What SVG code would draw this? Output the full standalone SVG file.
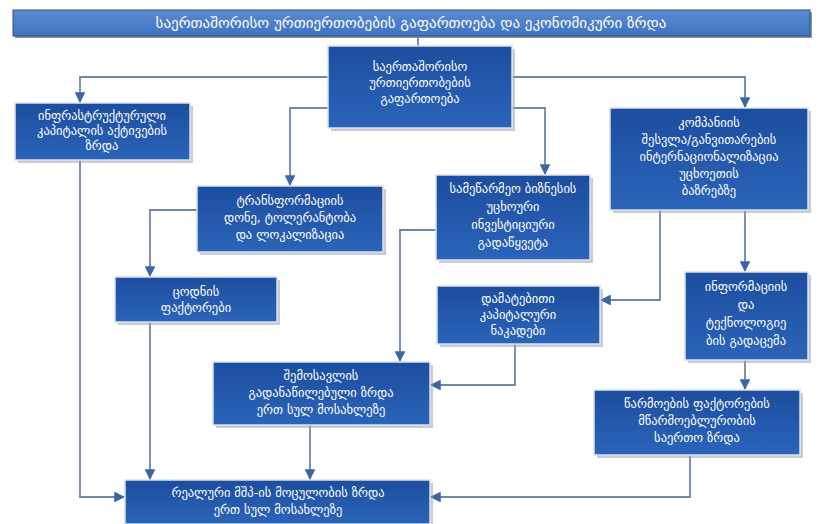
<svg xmlns="http://www.w3.org/2000/svg" width="820" height="524" viewBox="0 0 820 524">
<defs>
<linearGradient id="gb" x1="0" y1="0" x2="0" y2="1">
<stop offset="0" stop-color="#1d4d9e"/>
<stop offset="0.5" stop-color="#2459ad"/>
<stop offset="1" stop-color="#2a64b8"/>
</linearGradient>
<linearGradient id="gt" x1="0" y1="0" x2="0" y2="1">
<stop offset="0" stop-color="#5a8ad0"/>
<stop offset="1" stop-color="#3f74c0"/>
</linearGradient>
<marker id="ar" viewBox="0 0 10 10" refX="9" refY="5" markerWidth="6" markerHeight="6" orient="auto">
<path d="M0,0 L10,5 L0,10 z" fill="#3a66a8"/>
</marker>
</defs>
<style>
.box{fill:url(#gb);stroke:#d9e2f0;stroke-width:1.5}
.sh{fill:#9aa3ad;opacity:0.55}
.t{font-family:"DejaVu Sans",sans-serif;font-size:12.5px;fill:#ffffff;text-anchor:middle}
.c{fill:none;stroke:#6f87a8;stroke-width:1.8;marker-end:url(#ar)}
.cn{fill:none;stroke:#6f87a8;stroke-width:1.8}
</style>
<rect width="820" height="524" fill="#ffffff"/>

<g id="connectors">
<path class="cn" d="M418,36 L418,46"/>
<path class="c" d="M328,77 L80,77 L80,102"/>
<path class="c" d="M328,108 L290,108 L290,185"/>
<path class="c" d="M512,77 L745,77 L745,107"/>
<path class="c" d="M512,108 L545,108 L545,174"/>
<path class="c" d="M80,160 L80,497 L124,497"/>
<path class="c" d="M197,210 L150,210 L150,276"/>
<path class="c" d="M150,322 L150,479"/>
<path class="c" d="M436,230 L400,230 L400,361"/>
<path class="c" d="M745,210 L745,271"/>
<path class="c" d="M660,210 L660,300 L601,300"/>
<path class="c" d="M745,360 L745,389"/>
<path class="c" d="M515,344 L515,385 L431,385"/>
<path class="c" d="M310,425 L310,479"/>
<path class="c" d="M690,455 L690,497 L431,497"/>
</g>

<g id="title">
<rect x="15" y="12" width="797" height="26" fill="#8c9099"/>
<rect x="13" y="10" width="797" height="26" fill="url(#gt)" stroke="#2a4f86" stroke-width="1"/>
<text class="t" x="411" y="28" style="font-size:15px">საერთაშორისო ურთიერთობების გაფართოება და ეკონომიკური ზრდა</text>
</g>

<g id="n-top">
<rect class="sh" x="331" y="49" width="184" height="82"/>
<rect class="box" x="328" y="46" width="184" height="82"/>
<text class="t" x="420" y="71">საერთაშორისო</text>
<text class="t" x="420" y="87">ურთიერთობების</text>
<text class="t" x="420" y="103">გაფართოება</text>
</g>

<g id="n-left">
<rect class="sh" x="18" y="106" width="175" height="57"/>
<rect class="box" x="15" y="103" width="175" height="57"/>
<text class="t" x="102" y="120">ინფრასტრუქტურული</text>
<text class="t" x="102" y="135">კაპიტალის აქტივების</text>
<text class="t" x="102" y="150">ზრდა</text>
</g>

<g id="n-right">
<rect class="sh" x="613" y="111" width="198" height="102"/>
<rect class="box" x="610" y="108" width="198" height="102"/>
<text class="t" x="709" y="127">კომპანიის</text>
<text class="t" x="709" y="144">შესვლა/განვითარების</text>
<text class="t" x="709" y="161">ინტერნაციონალიზაცია</text>
<text class="t" x="709" y="178">უცხოეთის</text>
<text class="t" x="709" y="195">ბაზრებზე</text>
</g>

<g id="n-b">
<rect class="sh" x="200" y="189" width="186" height="66"/>
<rect class="box" x="197" y="186" width="186" height="66"/>
<text class="t" x="290" y="205">ტრანსფორმაციის</text>
<text class="t" x="290" y="222">დონე, ტოლერანტობა</text>
<text class="t" x="290" y="239">და ლოკალიზაცია</text>
</g>

<g id="n-c">
<rect class="sh" x="439" y="178" width="154" height="85"/>
<rect class="box" x="436" y="175" width="154" height="85"/>
<text class="t" x="513" y="193">სამეწარმეო ბიზნესის</text>
<text class="t" x="513" y="211">უცხოური</text>
<text class="t" x="513" y="229">ინვესტიციური</text>
<text class="t" x="513" y="247">გადაწყვეტა</text>
</g>

<g id="n-d">
<rect class="sh" x="118" y="280" width="162" height="45"/>
<rect class="box" x="115" y="277" width="162" height="45"/>
<text class="t" x="196" y="296">ცოდნის</text>
<text class="t" x="196" y="312">ფაქტორები</text>
</g>

<g id="n-e">
<rect class="sh" x="440" y="289" width="163" height="58"/>
<rect class="box" x="437" y="286" width="163" height="58"/>
<text class="t" x="518" y="303">დამატებითი</text>
<text class="t" x="518" y="319">კაპიტალური</text>
<text class="t" x="518" y="335">ნაკადები</text>
</g>

<g id="n-f">
<rect class="sh" x="688" y="275" width="123" height="88"/>
<rect class="box" x="685" y="272" width="123" height="88"/>
<text class="t" x="746" y="291">ინფორმაციის</text>
<text class="t" x="746" y="309">და</text>
<text class="t" x="746" y="327">ტექნოლოგიე</text>
<text class="t" x="746" y="345">ბის გადაცემა</text>
</g>

<g id="n-g">
<rect class="sh" x="216" y="365" width="217" height="63"/>
<rect class="box" x="213" y="362" width="217" height="63"/>
<text class="t" x="321" y="380">შემოსავლის</text>
<text class="t" x="321" y="397">გადანაწილებული ზრდა</text>
<text class="t" x="321" y="414">ერთ სულ მოსახლეზე</text>
</g>

<g id="n-h">
<rect class="sh" x="597" y="393" width="206" height="65"/>
<rect class="box" x="594" y="390" width="206" height="65"/>
<text class="t" x="697" y="408">წარმოების ფაქტორების</text>
<text class="t" x="697" y="425">მწარმოებლურობის</text>
<text class="t" x="697" y="442">საერთო ზრდა</text>
</g>

<g id="n-bottom">
<rect class="sh" x="128" y="483" width="305" height="44"/>
<rect class="box" x="125" y="480" width="305" height="44"/>
<text class="t" x="278" y="497">რეალური მშპ-ის მოცულობის ზრდა</text>
<text class="t" x="278" y="514">ერთ სულ მოსახლეზე</text>
</g>
</svg>
